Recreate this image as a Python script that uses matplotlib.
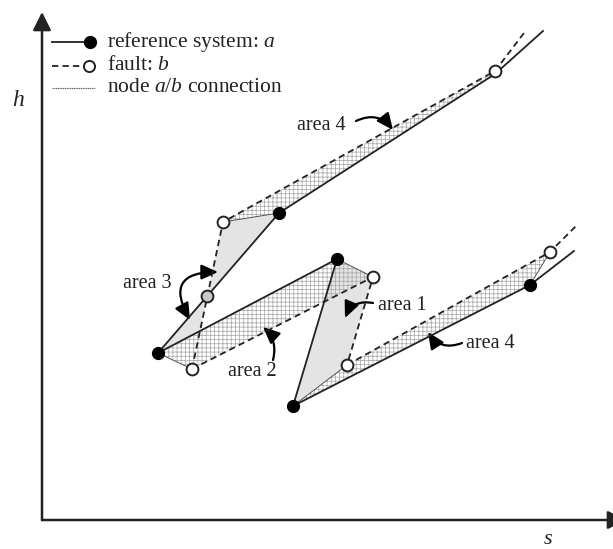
import numpy as np
import matplotlib.pyplot as plt
from matplotlib.patches import Polygon

plt.rcParams['font.family'] = ['Liberation Serif', 'DejaVu Serif']
plt.rcParams['mathtext.fontset'] = 'custom'
plt.rcParams['mathtext.rm'] = 'Liberation Serif'
plt.rcParams['mathtext.it'] = 'Liberation Serif:italic'
plt.rcParams['hatch.linewidth'] = 0.55
plt.rcParams['hatch.color'] = '#ababab'

INK = '#222222'

# reference system a: state points (s, h)
a_s = np.array([116, 237, 295, 251, 488])
a_h = np.array([167, 307, 261, 114, 235])
# fault b: state points (s, h)
b_s = np.array([150, 181, 331, 305, 508, 453])
b_h = np.array([151, 298, 243, 155, 268, 449])

# isobars run on past the last nodes
a_hi_s = [116, 237, 453, 501]
a_hi_h = [167, 307, 446, 489]
a_lo_s = [251, 488, 532]
a_lo_h = [114, 235, 269]
b_hi_s = [150, 181, 453, 482]
b_hi_h = [151, 298, 449, 487]
b_lo_s = [305, 508, 536]
b_lo_h = [155, 268, 296]

area_labels = ['area 1', 'area 2', 'area 3', 'area 4', 'area 4']


def cross(p1, p2, q1, q2):
    # intersection of the lines p1-p2 and q1-q2
    p1, p2, q1, q2 = map(np.asarray, (p1, p2, q1, q2))
    d1 = p2 - p1
    d2 = q2 - q1
    t = np.cross(q1 - p1, d2) / np.cross(d1, d2)
    return p1 + t * d1


A = np.column_stack([a_s, a_h])
B = np.column_stack([b_s, b_h])

fig = plt.figure(figsize=(6.13, 5.49), dpi=100)
ax = fig.add_axes([0, 0, 1, 1])
ax.set_xlim(-42, 571)
ax.set_ylim(-29, 520)
ax.axis('off')

GREY = '#e4e4e4'
X = cross(A[0], A[1], B[0], B[1])
Y = cross(A[0], A[2], B[0], B[1])

# plain grey areas (1 and 3)
for pts in ([A[2], B[2], B[3], A[3]],
            [B[1], A[1], X],
            [X, A[0], Y]):
    ax.add_patch(Polygon(pts, closed=True, facecolor=GREY, edgecolor='none', zorder=1))

# hatched areas (2 and 4)
hi_pass = (a_hi_s[2], a_hi_h[2])
for pts in ([A[0], A[2], B[2], B[0]],
            [B[1], B[5], hi_pass, A[1]],
            [A[3], B[3], B[4], A[4]]):
    ax.add_patch(Polygon(pts, closed=True, facecolor='none', edgecolor='#ababab',
                         hatch='++++', lw=0, zorder=2))

# node a/b connections
for i in range(5):
    ax.plot([a_s[i], b_s[i]], [a_h[i], b_h[i]], color='#555555', lw=0.7, zorder=3)

dash = (0, (3.5, 2.3))
# fault b lines
ax.plot(b_hi_s, b_hi_h, color=INK, lw=1.3, ls=dash, zorder=4)
ax.plot(b_lo_s, b_lo_h, color=INK, lw=1.3, ls=dash, zorder=4)
ax.plot([b_s[0], b_s[2], b_s[3]], [b_h[0], b_h[2], b_h[3]], color=INK, lw=1.3, ls=dash, zorder=4)

# reference system a lines
ax.plot(a_hi_s, a_hi_h, color=INK, lw=1.3, zorder=5)
ax.plot(a_lo_s, a_lo_h, color=INK, lw=1.3, zorder=5)
ax.plot([a_s[0], a_s[2], a_s[3]], [a_h[0], a_h[2], a_h[3]], color=INK, lw=1.3, zorder=5)

ax.plot(b_s, b_h, 'o', ms=8.5, mfc='white', mec=INK, mew=1.4, zorder=6)
ax.plot(a_s, a_h, 'o', ms=8.5, mfc='black', mec='black', zorder=6)
ax.plot(X[0], X[1], 'o', ms=8.5, mfc='#c8c8c8', mec=INK, mew=1.4, zorder=6)

# axes with arrow heads
head = '-|>,head_length=1.1,head_width=0.55'
ax.annotate('', xy=(0, 508), xytext=(0, 0), annotation_clip=False,
            arrowprops=dict(arrowstyle=head, lw=1.8, color=INK, shrinkA=0, shrinkB=0))
ax.annotate('', xy=(584, 0), xytext=(0, 0), annotation_clip=False,
            arrowprops=dict(arrowstyle=head, lw=1.8, color=INK, shrinkA=0, shrinkB=0))
ax.text(-24, 420, 'h', style='italic', fontsize=17, color=INK, ha='center', va='center')
ax.text(506, -20, 's', style='italic', fontsize=16, color=INK, ha='center', va='center')

# legend
ax.plot([10, 48], [478, 478], color=INK, lw=1.3)
ax.plot([48], [478], 'o', ms=8.5, mfc='black', mec='black')
ax.plot([10, 46], [454, 454], color=INK, lw=1.3, ls=dash)
ax.plot([47], [454], 'o', ms=8, mfc='white', mec=INK, mew=1.4)
ax.plot([10, 53], [432, 432], color='#555555', lw=0.8, ls=(0, (1, 0.6)))
ax.text(65, 478, 'reference system: $\\it{a}$', fontsize=15.5, color=INK, va='center')
ax.text(65, 454, 'fault: $\\it{b}$', fontsize=15.5, color=INK, va='center')
ax.text(65, 432, 'node $\\it{a/b}$ connection', fontsize=15.5, color=INK, va='center')

arrow = dict(arrowstyle='-|>,head_length=1.0,head_width=0.45', lw=1.6, color='black',
             shrinkA=0, shrinkB=0)
# area 1
ax.annotate('', xy=(303, 202), xytext=(331, 217),
            arrowprops=dict(arrow, connectionstyle='arc3,rad=0.4'))
ax.text(336, 215, area_labels[0], fontsize=14.5, color=INK, va='center')
# area 2
ax.annotate('', xy=(221, 193), xytext=(231, 160),
            arrowprops=dict(arrow, connectionstyle='arc3,rad=0.3'))
ax.text(186, 149, area_labels[1], fontsize=14.5, color=INK, va='center')
# area 3
ax.annotate('', xy=(176, 248), xytext=(148, 200),
            arrowprops=dict(arrow, arrowstyle='<|-|>,head_length=1.0,head_width=0.45',
                            connectionstyle='arc3,rad=-0.85'))
ax.text(81, 236, area_labels[2], fontsize=14.5, color=INK, va='center')
# area 4, high pressure side
ax.annotate('', xy=(351, 390), xytext=(314, 399),
            arrowprops=dict(arrow, connectionstyle='arc3,rad=-0.4'))
ax.text(255, 395, area_labels[3], fontsize=14.5, color=INK, va='center')
# area 4, low pressure side
ax.annotate('', xy=(386, 188), xytext=(420, 177),
            arrowprops=dict(arrow, connectionstyle='arc3,rad=-0.4'))
ax.text(424, 177, area_labels[4], fontsize=14.5, color=INK, va='center')

fig.savefig('out.png', dpi=100)
